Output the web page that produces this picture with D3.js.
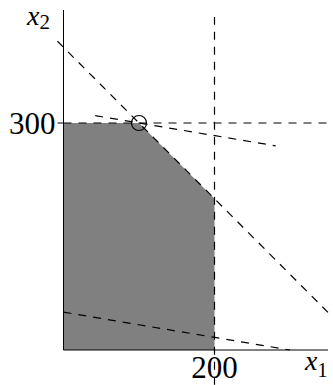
<!DOCTYPE html>
<html><head><meta charset="utf-8">
<script src="https://cdn.jsdelivr.net/npm/d3@7"></script>
<style>body{margin:0;background:#fff}svg{display:block}text{font-family:"Liberation Serif","DejaVu Serif",serif}</style>
</head><body><svg id="c" width="333" height="385"></svg>
<script>
// Feasible region vertices (x1, x2)
const region = [[0,0],[0,300],[100,300],[200,200],[200,0]];
// Dashed lines (endpoints in data units)
const lineC1 = [[-8,408],[352,48]];       // x1 + x2 = 400
const lineC2 = [[200,-46],[200,440]];     // x1 = 200
const lineC3 = [[0,300],[352,300]];       // x2 = 300
const objOpt = [[42,309.7],[281,269.8]];  // x1 + 6 x2 = 1900
const objLow = [[0,50],[300,0]];          // x1 + 6 x2 = 300
const optimum = [100,300];
const xTicks = [200], yTicks = [300];

const svg = d3.select("#c");
const x = d3.scaleLinear().domain([0,200]).range([63.5,214.5]);
const y = d3.scaleLinear().domain([0,300]).range([350,123]);
const line = d3.line().x(d=>x(d[0])).y(d=>y(d[1]));

svg.append("path").attr("d", line(region)+"Z").attr("fill","#808080");

[lineC1,lineC2,lineC3,objOpt,objLow].forEach(l=>{
  svg.append("path").attr("d",line(l)).attr("fill","none")
    .attr("stroke","#000").attr("stroke-width",1.2).attr("stroke-dasharray","8,7");
});

// axes
svg.append("line").attr("x1",x(0)).attr("x2",x(0)).attr("y1",10).attr("y2",y(0)).attr("stroke","#000");
svg.append("line").attr("x1",x(0)).attr("x2",328).attr("y1",y(0)).attr("y2",y(0)).attr("stroke","#000");
yTicks.forEach(t=>{
  svg.append("line").attr("x1",x(0)-6).attr("x2",x(0)).attr("y1",y(t)).attr("y2",y(t)).attr("stroke","#000");
  svg.append("text").attr("x",x(0)-8).attr("y",y(t)+11).attr("text-anchor","end").attr("font-size",31).text(t);
});
xTicks.forEach(t=>{
  svg.append("text").attr("x",x(t)).attr("y",378).attr("text-anchor","middle").attr("font-size",31).text(t);
});

svg.append("circle").attr("cx",x(optimum[0])).attr("cy",y(optimum[1])).attr("r",7.5)
  .attr("fill","none").attr("stroke","#000").attr("stroke-width",1.2);

// axis labels
const lx2 = svg.append("text").attr("x",27).attr("y",25).attr("font-size",28).attr("font-style","italic");
lx2.append("tspan").text("x");
lx2.append("tspan").attr("font-style","normal").attr("font-size",21).attr("dy",4).text("2");
const lx1 = svg.append("text").attr("x",305).attr("y",370).attr("font-size",28).attr("font-style","italic");
lx1.append("tspan").text("x");
lx1.append("tspan").attr("font-style","normal").attr("font-size",20).attr("dy",7).text("1");
</script></body></html>
